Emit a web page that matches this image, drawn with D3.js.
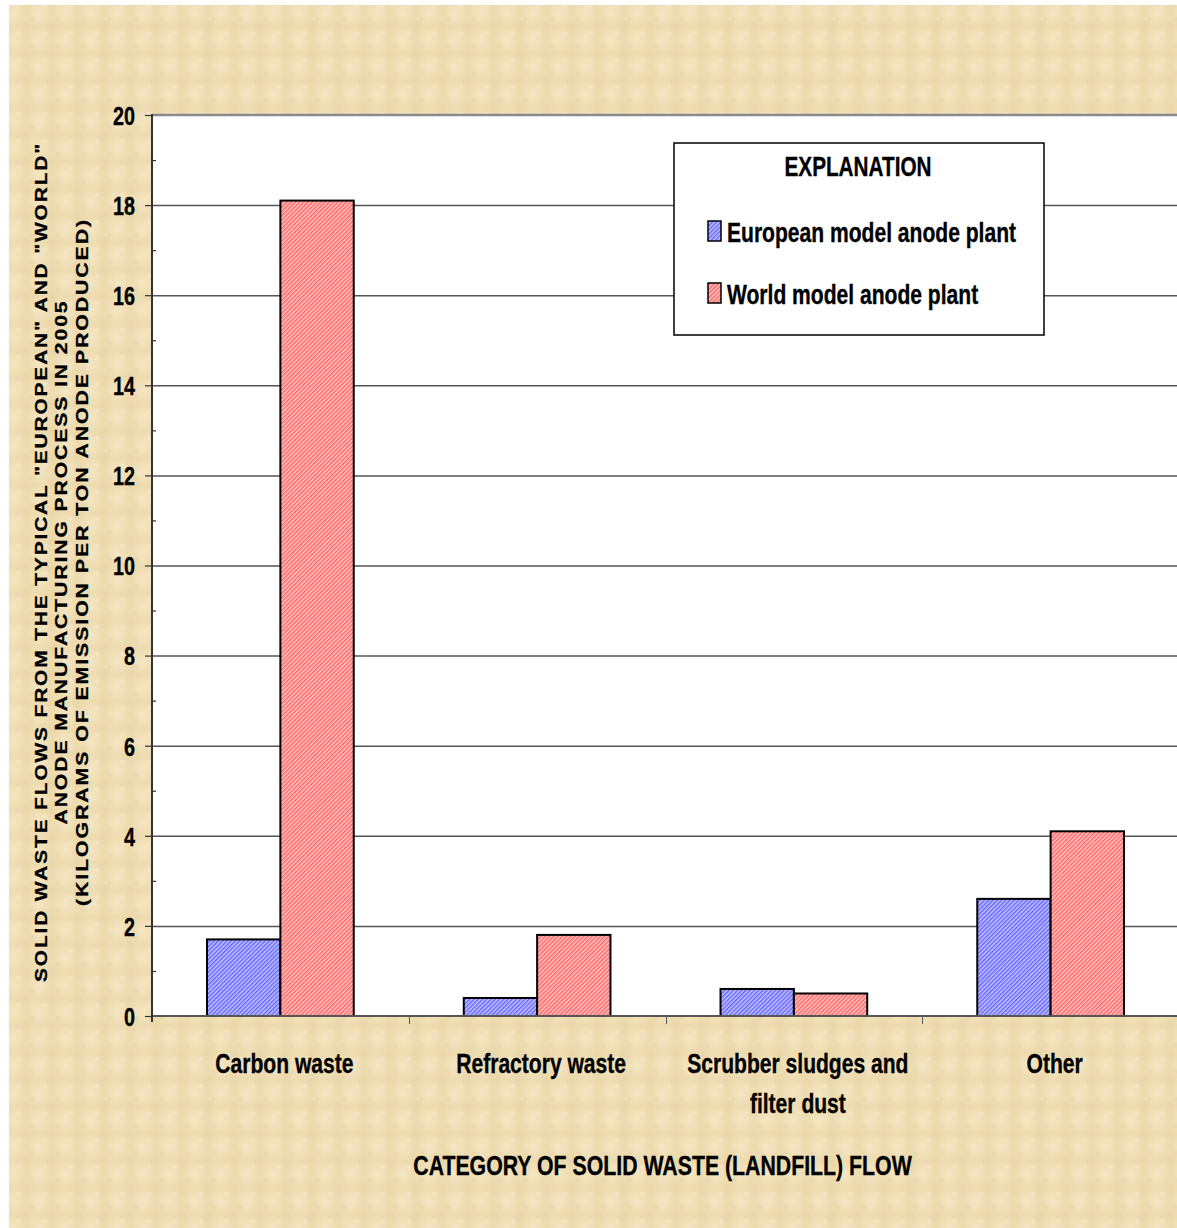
<!DOCTYPE html>
<html>
<head>
<meta charset="utf-8">
<script src="https://cdn.jsdelivr.net/npm/d3@7"></script>
<style>
  html, body { margin: 0; padding: 0; background: #ffffff; }
  svg { display: block; }
  .narrow { font-family: 'Liberation Sans', Arial, sans-serif; font-weight: bold; stroke: #000; stroke-width: 0.35px; }
</style>
</head>
<body>
<script>
// ---- data ----
const categories = ["Carbon waste", "Refractory waste", "Scrubber sludges and\nfilter dust", "Other"];
const seriesNames = ["European model anode plant", "World model anode plant"];
const european = [1.7, 0.4, 0.6, 2.6];
const world = [18.1, 1.8, 0.5, 4.1];
const yTicks = [0, 2, 4, 6, 8, 10, 12, 14, 16, 18, 20];
const yMinorTicks = [1, 3, 5, 7, 9, 11, 13, 15, 17, 19];
const legendTitle = "EXPLANATION";
const xTitle = "CATEGORY OF SOLID WASTE (LANDFILL) FLOW";
const yTitleLines = [
  "SOLID WASTE FLOWS FROM THE TYPICAL \"EUROPEAN\" AND \"WORLD\"",
  "ANODE MANUFACTURING PROCESS IN 2005",
  "(KILOGRAMS OF EMISSION PER TON ANODE PRODUCED)"
];

// ---- layout ----
const W = 1177, H = 1228;
const plot = { left: 152, right: 1179, top: 115, bottom: 1016 };

const svg = d3.select("body").append("svg").attr("width", W).attr("height", H);
const defs = svg.append("defs");

// condense text horizontally (emulates a narrow bold face)
function narrow(sel, factor) {
  sel.each(function () {
    const len = this.getComputedTextLength();
    d3.select(this).attr("textLength", len * factor).attr("lengthAdjust", "spacingAndGlyphs");
  });
}

// textured beige background
const rg = defs.append("radialGradient").attr("id", "spot");
rg.append("stop").attr("offset", "0%").attr("stop-color", "#f6e9c9").attr("stop-opacity", 0.8);
rg.append("stop").attr("offset", "100%").attr("stop-color", "#f6e9c9").attr("stop-opacity", 0);
const rg2 = defs.append("radialGradient").attr("id", "spotd");
rg2.append("stop").attr("offset", "0%").attr("stop-color", "#e4d09f").attr("stop-opacity", 0.55);
rg2.append("stop").attr("offset", "100%").attr("stop-color", "#e4d09f").attr("stop-opacity", 0);
const bg = defs.append("pattern").attr("id", "bgtex").attr("patternUnits", "userSpaceOnUse")
  .attr("width", 26).attr("height", 27);
bg.append("rect").attr("width", 26).attr("height", 27).attr("fill", "#eedcb1");
bg.append("ellipse").attr("cx", 13).attr("cy", 13).attr("rx", 11).attr("ry", 13).attr("fill", "url(#spot)");
[[0, 0], [26, 0], [0, 27], [26, 27]].forEach(p => {
  bg.append("ellipse").attr("cx", p[0]).attr("cy", p[1]).attr("rx", 7).attr("ry", 8).attr("fill", "url(#spotd)");
});
bg.append("ellipse").attr("cx", 6).attr("cy", 19).attr("rx", 4).attr("ry", 3).attr("fill", "url(#spotd)");
bg.append("ellipse").attr("cx", 19).attr("cy", 6).attr("rx", 4).attr("ry", 3).attr("fill", "url(#spot)");

// hatch patterns
const hatchColors = [["#c6c6ff", "#6464ff"], ["#ffc8c8", "#ff6464"]];
hatchColors.forEach((c, i) => {
  const p = defs.append("pattern").attr("id", "hatch" + i).attr("patternUnits", "userSpaceOnUse")
    .attr("width", 3).attr("height", 4).attr("patternTransform", "rotate(45)");
  p.append("rect").attr("width", 3).attr("height", 4).attr("fill", c[0]);
  p.append("rect").attr("width", 1.5).attr("height", 4).attr("fill", c[1]);
});

svg.append("rect").attr("width", W).attr("height", H).attr("fill", "#ffffff");
svg.append("rect").attr("x", 9).attr("y", 5).attr("width", W - 9).attr("height", H - 5).attr("fill", "url(#bgtex)");

// scales
const x = d3.scaleBand().domain(categories).range([plot.left, plot.right]).paddingInner(0).paddingOuter(0);
const xs = d3.scaleBand().domain(seriesNames).range([0, x.bandwidth()]).paddingInner(0).paddingOuter(0.75);
const y = d3.scaleLinear().domain([0, 20]).range([plot.bottom, plot.top]);

// plot area
svg.append("rect").attr("x", plot.left).attr("y", plot.top)
  .attr("width", plot.right - plot.left).attr("height", plot.bottom - plot.top).attr("fill", "#ffffff");
svg.append("line").attr("x1", plot.left).attr("x2", plot.right).attr("y1", plot.top).attr("y2", plot.top)
  .attr("stroke", "#8a8a8a").attr("stroke-width", 2.5);

// gridlines
svg.append("g").selectAll("line").data(yTicks.filter(v => v > 0 && v < 20)).join("line")
  .attr("x1", plot.left).attr("x2", plot.right)
  .attr("y1", d => y(d) + 0.5).attr("y2", d => y(d) + 0.5)
  .attr("stroke", "#555555").attr("stroke-width", 1.5);

// bars
const seriesVals = [european, world];
const gBars = svg.append("g");
seriesNames.forEach((s, si) => {
  gBars.append("g").selectAll("rect").data(categories).join("rect")
    .attr("x", (c) => x(c) + xs(s))
    .attr("y", (c, i) => y(seriesVals[si][i]))
    .attr("width", xs.bandwidth())
    .attr("height", (c, i) => y(0) - y(seriesVals[si][i]))
    .attr("fill", "url(#hatch" + si + ")")
    .attr("stroke", "#000000").attr("stroke-width", 2);
});

// x axis line
svg.append("line").attr("x1", plot.left).attr("x2", plot.right).attr("y1", plot.bottom).attr("y2", plot.bottom)
  .attr("stroke", "#555555").attr("stroke-width", 2);
// x boundary ticks
const bounds = categories.map(c => x(c)).concat([x.range()[1]]);
svg.append("g").selectAll("line").data(bounds.slice(1)).join("line")
  .attr("x1", d => Math.round(d) + 0.5).attr("x2", d => Math.round(d) + 0.5)
  .attr("y1", plot.bottom).attr("y2", plot.bottom + 8)
  .attr("stroke", "#555555").attr("stroke-width", 1);

// y axis
const yAxis = svg.append("g").attr("transform", `translate(${plot.left},0)`)
  .call(d3.axisLeft(y).tickValues(yTicks).tickSize(7).tickPadding(10).tickFormat(d3.format("d")));
yAxis.select(".domain").remove();
yAxis.selectAll(".tick line").attr("stroke", "#333333").attr("stroke-width", 1.2);
yAxis.selectAll("text").attr("class", "narrow").attr("font-size", 26).attr("fill", "#000").attr("dy", "0.36em")
  .call(narrow, 0.76);
const yMinor = svg.append("g").attr("transform", `translate(${plot.left},0)`)
  .call(d3.axisRight(y).tickValues(yMinorTicks).tickSize(4).tickFormat(""));
yMinor.select(".domain").remove();
yMinor.selectAll(".tick line").attr("stroke", "#333333").attr("stroke-width", 1.2);
svg.append("line").attr("x1", plot.left).attr("x2", plot.left).attr("y1", plot.top - 1).attr("y2", plot.bottom + 6)
  .attr("stroke", "#333333").attr("stroke-width", 2);

// category labels
const catG = svg.append("g");
categories.forEach(c => {
  c.split("\n").forEach((ln, i) => {
    catG.append("text").attr("class", "narrow").attr("font-size", 27).attr("text-anchor", "middle")
      .attr("x", x(c) + x.bandwidth() / 2 + 4).attr("y", 1073 + i * 40).text(ln)
      .call(narrow, 0.78);
  });
});

// x title
svg.append("text").attr("class", "narrow").attr("font-size", 28).attr("text-anchor", "middle")
  .attr("x", (plot.left + plot.right) / 2 - 3).attr("y", 1175).text(xTitle)
  .call(narrow, 0.76);

// y title (rotated, 3 lines)
const yTitleX = [47, 67, 88];
const yTitleLen = [840, 525, 688];
yTitleLines.forEach((ln, i) => {
  svg.append("text")
    .attr("transform", `translate(${yTitleX[i]},562) rotate(-90)`)
    .attr("text-anchor", "middle")
    .attr("font-family", "'Liberation Sans', Arial, sans-serif")
    .attr("font-weight", "bold").attr("font-size", 16.5).attr("letter-spacing", 1.5)
    .attr("stroke", "#000").attr("stroke-width", 0.3)
    .attr("textLength", yTitleLen[i]).attr("lengthAdjust", "spacingAndGlyphs")
    .text(ln);
});

// legend
const lg = svg.append("g");
lg.append("rect").attr("x", 674).attr("y", 143).attr("width", 370).attr("height", 192)
  .attr("fill", "#ffffff").attr("stroke", "#000000").attr("stroke-width", 1.5);
lg.append("text").attr("class", "narrow").attr("font-size", 28).attr("text-anchor", "middle")
  .attr("x", 858).attr("y", 176).text(legendTitle).call(narrow, 0.74);
seriesNames.forEach((s, i) => {
  const yy = 221 + i * 62;
  lg.append("rect").attr("x", 708).attr("y", yy).attr("width", 13).attr("height", 20)
    .attr("fill", "url(#hatch" + i + ")").attr("stroke", "#000").attr("stroke-width", 1.5);
  lg.append("text").attr("class", "narrow").attr("font-size", 27)
    .attr("x", 727).attr("y", yy + 21).text(s).call(narrow, 0.78);
});
</script>
</body>
</html>
